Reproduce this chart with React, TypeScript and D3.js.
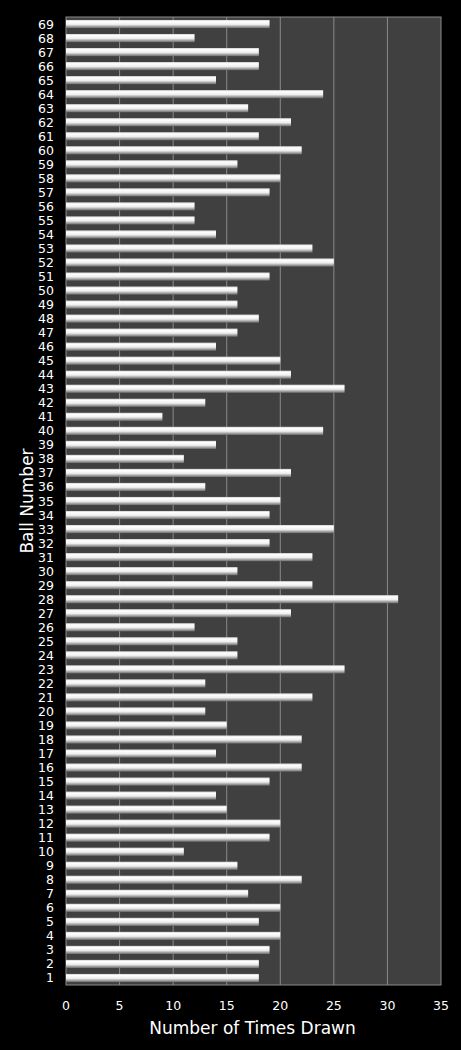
import React from "react";
import * as d3 from "d3";

const balls: number[] = Array.from({ length: 69 }, (_, i) => i + 1);
const timesDrawn: number[] = [
  18, 18, 19, 20, 18, 20, 17, 22, 16, 11,
  19, 20, 15, 14, 19, 22, 14, 22, 15, 13,
  23, 13, 26, 16, 16, 12, 21, 31, 23, 16,
  23, 19, 25, 19, 20, 13, 21, 11, 14, 24,
  9, 13, 26, 21, 20, 14, 16, 18, 16, 16,
  19, 25, 23, 14, 12, 12, 19, 20, 16, 22,
  18, 21, 17, 24, 14, 18, 18, 12, 19,
];
const xTicks: number[] = [0, 5, 10, 15, 20, 25, 30, 35];
const xTitle = "Number of Times Drawn";
const yTitle = "Ball Number";

export default function App() {
  const W = 461;
  const H = 1050;
  const left = 66;
  const right = 441;
  const top = 17;
  const bottom = 985;
  const x = d3.scaleLinear().domain([0, 35]).range([left, right]);
  const y = d3
    .scaleBand<number>()
    .domain([...balls].reverse())
    .range([top, bottom])
    .paddingInner(0.42)
    .paddingOuter(0.21);
  const font = "'DejaVu Sans', Verdana, sans-serif";
  return (
    <svg
      width={W}
      height={H}
      style={{ position: "absolute", left: 0, top: 0, background: "#000" }}
    >
      <defs>
        <linearGradient id="barGrad" x1="0" y1="0" x2="0" y2="1">
          <stop offset="0" stopColor="#d0d0d0" />
          <stop offset="0.2" stopColor="#ffffff" />
          <stop offset="0.55" stopColor="#eeeeee" />
          <stop offset="0.8" stopColor="#a4a4a4" />
          <stop offset="1" stopColor="#6c6c6c" />
        </linearGradient>
      </defs>
      <rect x={0} y={0} width={W} height={H} fill="#000" />
      <rect x={left} y={top} width={right - left} height={bottom - top} fill="#404040" />
      {xTicks.slice(1, -1).map((t) => (
        <line key={t} x1={x(t)} x2={x(t)} y1={top} y2={bottom} stroke="#8a8a8a" strokeWidth={1} />
      ))}
      <rect x={left} y={top} width={right - left} height={bottom - top} fill="none" stroke="#8a8a8a" strokeWidth={1} />
      {balls.map((b, i) => (
        <rect
          key={b}
          x={x(0)}
          y={y(b)!}
          width={x(timesDrawn[i]) - x(0)}
          height={y.bandwidth()}
          fill="url(#barGrad)"
        />
      ))}
      {balls.map((b) => (
        <text
          key={b}
          x={54}
          y={y(b)! + y.bandwidth() / 2}
          dy="0.36em"
          textAnchor="end"
          fill="#fff"
          fontSize={12.5}
          fontFamily={font}
        >
          {b}
        </text>
      ))}
      {xTicks.map((t) => (
        <text
          key={t}
          x={x(t)}
          y={1010}
          textAnchor="middle"
          fill="#fff"
          fontSize={12.5}
          fontFamily={font}
        >
          {t}
        </text>
      ))}
      <text
        x={(left + right) / 2 - 1}
        y={1034}
        textAnchor="middle"
        fill="#fff"
        fontSize={17}
        fontFamily={font}
      >
        {xTitle}
      </text>
      <text
        transform={`translate(33, ${(top + bottom) / 2}) rotate(-90)`}
        textAnchor="middle"
        fill="#fff"
        fontSize={17}
        fontFamily={font}
      >
        {yTitle}
      </text>
    </svg>
  );
}
